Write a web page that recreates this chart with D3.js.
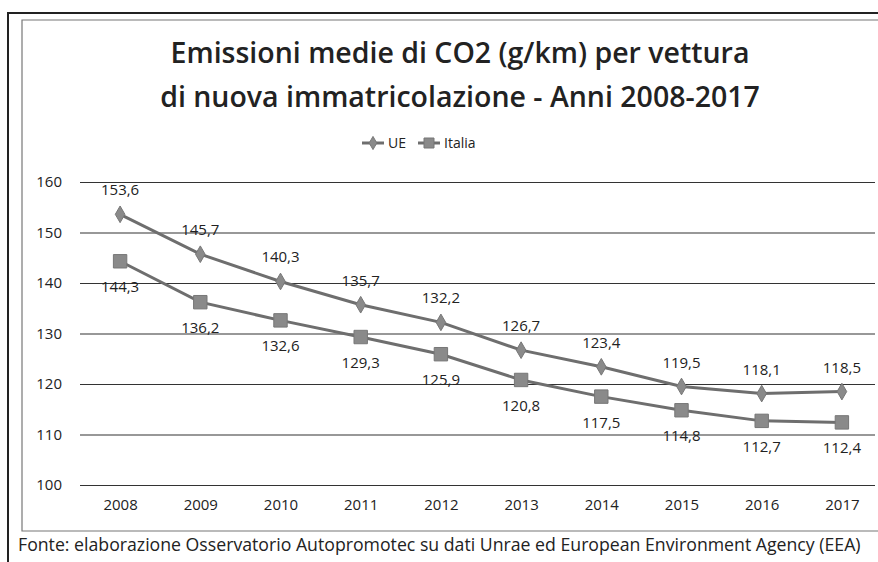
<!DOCTYPE html>
<html>
<head>
<meta charset="utf-8">
<script src="https://cdn.jsdelivr.net/npm/d3@7"></script>
<style>
  body { margin: 0; background: #fff; }
  svg text { font-family: "Open Sans", sans-serif; fill: #222; }
</style>
</head>
<body>
<div id="chart"></div>
<script>
const years = ["2008", "2009", "2010", "2011", "2012", "2013", "2014", "2015", "2016", "2017"];
const ue = [153.6, 145.7, 140.3, 135.7, 132.2, 126.7, 123.4, 119.5, 118.1, 118.5];
const italia = [144.3, 136.2, 132.6, 129.3, 125.9, 120.8, 117.5, 114.8, 112.7, 112.4];
const yTicks = [100, 110, 120, 130, 140, 150, 160];
const titleLines = ["Emissioni medie di CO2 (g/km) per vettura", "di nuova immatricolazione - Anni 2008-2017"];
const source = "Fonte: elaborazione Osservatorio Autopromotec su dati Unrae ed European Environment Agency (EEA)";

const width = 878, height = 562;
const lineColor = "#6e6e6e";
const markerColor = "#8a8a8a";

const svg = d3.select("#chart").append("svg")
  .attr("width", width)
  .attr("height", height);

// frames
svg.append("path").attr("d", "M7,13H878M8,13V562")
  .attr("fill", "none").attr("stroke", "#222").attr("stroke-width", 2);
svg.append("path").attr("d", "M878,20H22V531H878")
  .attr("fill", "none").attr("stroke", "#777").attr("stroke-width", 1.2);

const x = d3.scalePoint().domain(years).range([80, 882]).padding(0.5);
const y = d3.scaleLinear().domain([100, 160]).range([485, 182]);

const fmt = v => String(v.toFixed(1)).replace(".", ",");

// title
svg.append("g").selectAll("text")
  .data(titleLines)
  .join("text")
  .attr("x", 460)
  .attr("y", (d, i) => 63 + i * 44)
  .attr("text-anchor", "middle")
  .style("font-size", "28.5px")
  .style("font-weight", 600)
  .text(d => d);

// gridlines + y labels
const yAxis = svg.append("g")
  .attr("transform", "translate(80,0)")
  .call(d3.axisLeft(y).tickValues(yTicks).tickSize(-795).tickPadding(18));
yAxis.select(".domain").remove();
yAxis.selectAll(".tick line").attr("stroke", "#333").attr("stroke-width", 1.2);
yAxis.selectAll(".tick text").style("font-size", "15px").attr("fill", "#222");

// x labels
const xAxis = svg.append("g")
  .attr("transform", "translate(0,485)")
  .call(d3.axisBottom(x).tickSize(0).tickPadding(14));
xAxis.select(".domain").remove();
xAxis.selectAll(".tick text").style("font-size", "15px").attr("fill", "#222");

const line = d3.line().x((d, i) => x(years[i])).y(d => y(d));

function drawSeries(values, shape, size, labelDy) {
  svg.append("path").datum(values)
    .attr("fill", "none").attr("stroke", lineColor).attr("stroke-width", 3)
    .attr("d", line);
  svg.append("g").selectAll("path")
    .data(values)
    .join("path")
    .attr("transform", (d, i) => `translate(${x(years[i])},${y(d)})`)
    .attr("d", d3.symbol(shape, size)())
    .attr("fill", markerColor)
    .attr("stroke", "#777");
  svg.append("g").selectAll("text")
    .data(values)
    .join("text")
    .attr("x", (d, i) => x(years[i]))
    .attr("y", d => y(d) + labelDy)
    .attr("text-anchor", "middle")
    .style("font-size", "15px")
    .text(d => fmt(d));
}

drawSeries(ue, d3.symbolDiamond, 80, -19);
drawSeries(italia, d3.symbolSquare, 180, 31);

// legend
const legend = svg.append("g").attr("transform", "translate(0,143)");
[["UE", d3.symbolDiamond, 50, 362], ["Italia", d3.symbolSquare, 100, 418]].forEach(([name, shape, size, lx]) => {
  legend.append("line").attr("x1", lx).attr("x2", lx + 22)
    .attr("stroke", lineColor).attr("stroke-width", 3);
  legend.append("path").attr("transform", `translate(${lx + 11},0)`)
    .attr("d", d3.symbol(shape, size)())
    .attr("fill", markerColor).attr("stroke", "#777");
  legend.append("text").attr("x", lx + 26).attr("y", 5)
    .style("font-size", "14px").text(name);
});

// source
svg.append("text")
  .attr("x", 18).attr("y", 551)
  .style("font-size", "17.7px")
  .text(source);
</script>
</body>
</html>
